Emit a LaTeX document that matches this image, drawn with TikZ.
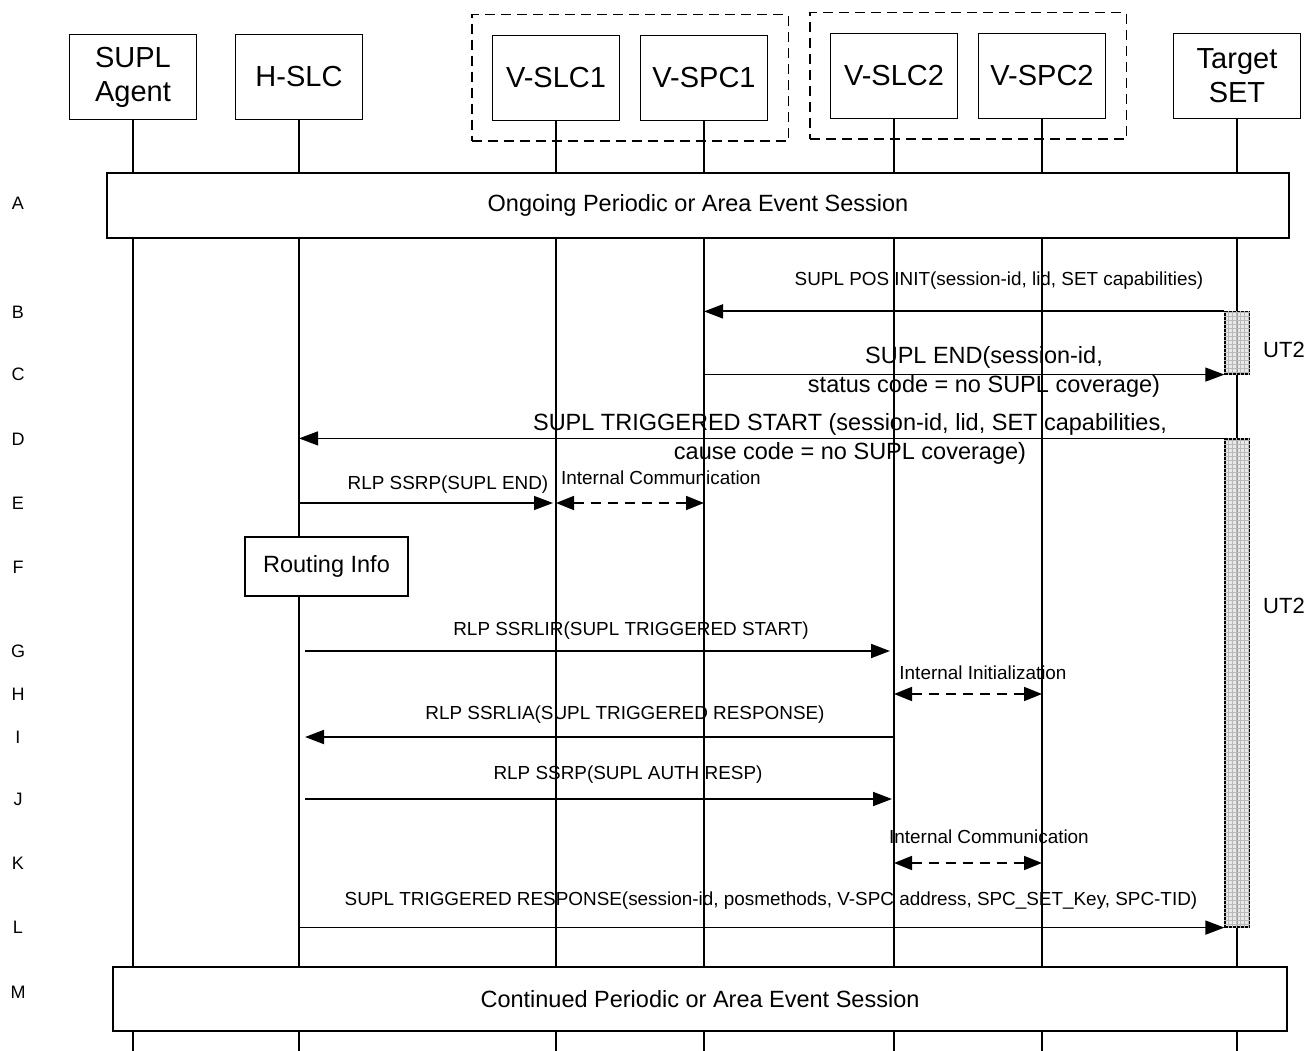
\documentclass[tikz,border=0pt]{standalone}
\usepackage{fontspec}
\setmainfont{Liberation Sans}
\usetikzlibrary{arrows.meta}
\usetikzlibrary{fit}

\begin{document}
\begin{tikzpicture}[line join=miter,x=1pt,y=-1pt,
  head/.style={draw,line width=1.4pt,fill=white,minimum width=127pt,minimum height=85pt,align=center,inner sep=0pt,font=\fontsize{29}{34}\selectfont},
  group/.style={draw,dash pattern=on 10pt off 6pt,line width=1.4pt,inner sep=20pt},
  session/.style={draw,line width=1.4pt,fill=white,font=\fontsize{23.5}{28}\selectfont},
  life/.style={line width=1.4pt},
  msg/.style={line width=1.9pt,-{Triangle[length=19pt,width=14pt]}},
  thinmsg/.style={line width=1.1pt,-{Triangle[length=19pt,width=14pt]}},
  intmsg/.style={line width=1.7pt,dash pattern=on 10pt off 7pt,{Triangle[length=18pt,width=14pt]}-{Triangle[length=18pt,width=14pt]}},
  lbl/.style={inner sep=0pt,font=\fontsize{18.9}{22}\selectfont},
  biglbl/.style={inner sep=0pt,align=center,font=\fontsize{23.5}{29}\selectfont},
  rowlbl/.style={font=\fontsize{18}{22}\selectfont},
  actbox/.style={draw,line width=1.2pt,fill=gray!25,fill opacity=0.7,minimum width=24pt,inner sep=0pt}]
\useasboundingbox (0,0) rectangle (1307,1051);
\coordinate (bot) at (0,1051);
%heads
\node [head] (agent) at (133,77) {SUPL\\Agent};
\node [head] (hslc) at (299,77) {H-SLC};
\node [head] (vslc1) at (556,78) {V-SLC1};
\node [head] (vspc1) at (704,78) {V-SPC1};
\node [head] (vslc2) at (894,76) {V-SLC2};
\node [head] (vspc2) at (1042,76) {V-SPC2};
\node [head] (target) at (1237,76) {Target\\SET};
\node [group, fit=(vslc1) (vspc1)] (visited1) {};
\node [group, fit=(vslc2) (vspc2)] (visited2) {};
%lifelines
\foreach \n in {agent,hslc,vslc1,vspc1,vslc2,vspc2,target}
  \draw [life] (\n.south)-- (\n.south |- bot);
%row letters
\foreach \r/\y in {A/203,B/312,C/374,D/439,E/503,F/567,G/651,H/694,I/737,J/799,K/863,L/927,M/992}
  \node [rowlbl] (r\r) at (18,\y) {\r};
%sessions
\node [session, minimum width=1182pt, minimum height=65pt] (sessA) at (698,205.5) {Ongoing Periodic or Area Event Session};
\node [session, minimum width=1174pt, minimum height=64pt] (sessM) at (700,999) {Continued Periodic or Area Event Session};
%UT2 timers
\node [actbox, minimum height=62pt] (act1) at (1237,343) {};
\draw [gray!55, line width=0.3pt, step=4pt] (act1.south west) grid (act1.north east);
\node [actbox, minimum height=488pt] (act2) at (1237,683) {};
\draw [gray!55, line width=0.3pt, step=4pt] (act2.south west) grid (act2.north east);
\node [font=\fontsize{22}{26}\selectfont] (ut1) at (1284,350) {UT2};
\node [font=\fontsize{22}{26}\selectfont] (ut2) at (1284,606) {UT2};
%B
\draw [msg] (act1.north west)-- (vspc1 |- act1.north);
\node [lbl] (lB) at (999,281) {SUPL POS INIT(session-id, lid, SET capabilities)};
%C
\draw [thinmsg] (vspc1 |- act1.south)-- (act1.south west);
\node [biglbl] (lC) at (984,372) {SUPL END(session-id,\\status code = no SUPL coverage)};
%D
\draw [thinmsg] (act2.north west)-- (hslc |- act2.north);
\node [biglbl] (lD) at (850,438.5) {SUPL TRIGGERED START (session-id, lid, SET capabilities,\\cause code = no SUPL coverage)};
%E
\draw [thinmsg, shorten >=3pt] (hslc |- rE)-- (vslc1 |- rE);
\node [lbl] (lE) at (448,485) {RLP SSRP(SUPL END)};
\draw [intmsg] (vslc1 |- rE)-- (vspc1 |- rE);
\node [lbl, anchor=west] (lE2) at (561,478) {Internal Communication};
%F
\node [session, minimum width=163pt, minimum height=59pt] (routing) at (326.5,566.5) {Routing Info};
%G
\draw [msg, shorten <=6pt, shorten >=4pt] (hslc |- rG)-- (vslc2 |- rG);
\node [lbl] (lG) at (631,631) {RLP SSRLIR(SUPL TRIGGERED START)};
%H
\draw [intmsg] (vslc2 |- rH)-- (vspc2 |- rH);
\node [lbl] (lH) at (983,673) {Internal Initialization};
%I
\draw [msg, shorten >=6pt] (vslc2 |- rI)-- (hslc |- rI);
\node [lbl] (lI) at (625,715) {RLP SSRLIA(SUPL TRIGGERED RESPONSE)};
%J
\draw [msg, shorten <=6pt, shorten >=2pt] (hslc |- rJ)-- (vslc2 |- rJ);
\node [lbl] (lJ) at (628,775) {RLP SSRP(SUPL AUTH RESP)};
%K
\draw [intmsg] (vslc2 |- rK)-- (vspc2 |- rK);
\node [lbl] (lK) at (989,837) {Internal Communication};
%L
\draw [msg, line width=1.5pt] (hslc |- act2.south)-- (act2.south west);
\node [lbl] (lL) at (771,901) {SUPL TRIGGERED RESPONSE(session-id, posmethods, V-SPC address, SPC\_SET\_Key, SPC-TID)};
\end{tikzpicture}
\end{document}
